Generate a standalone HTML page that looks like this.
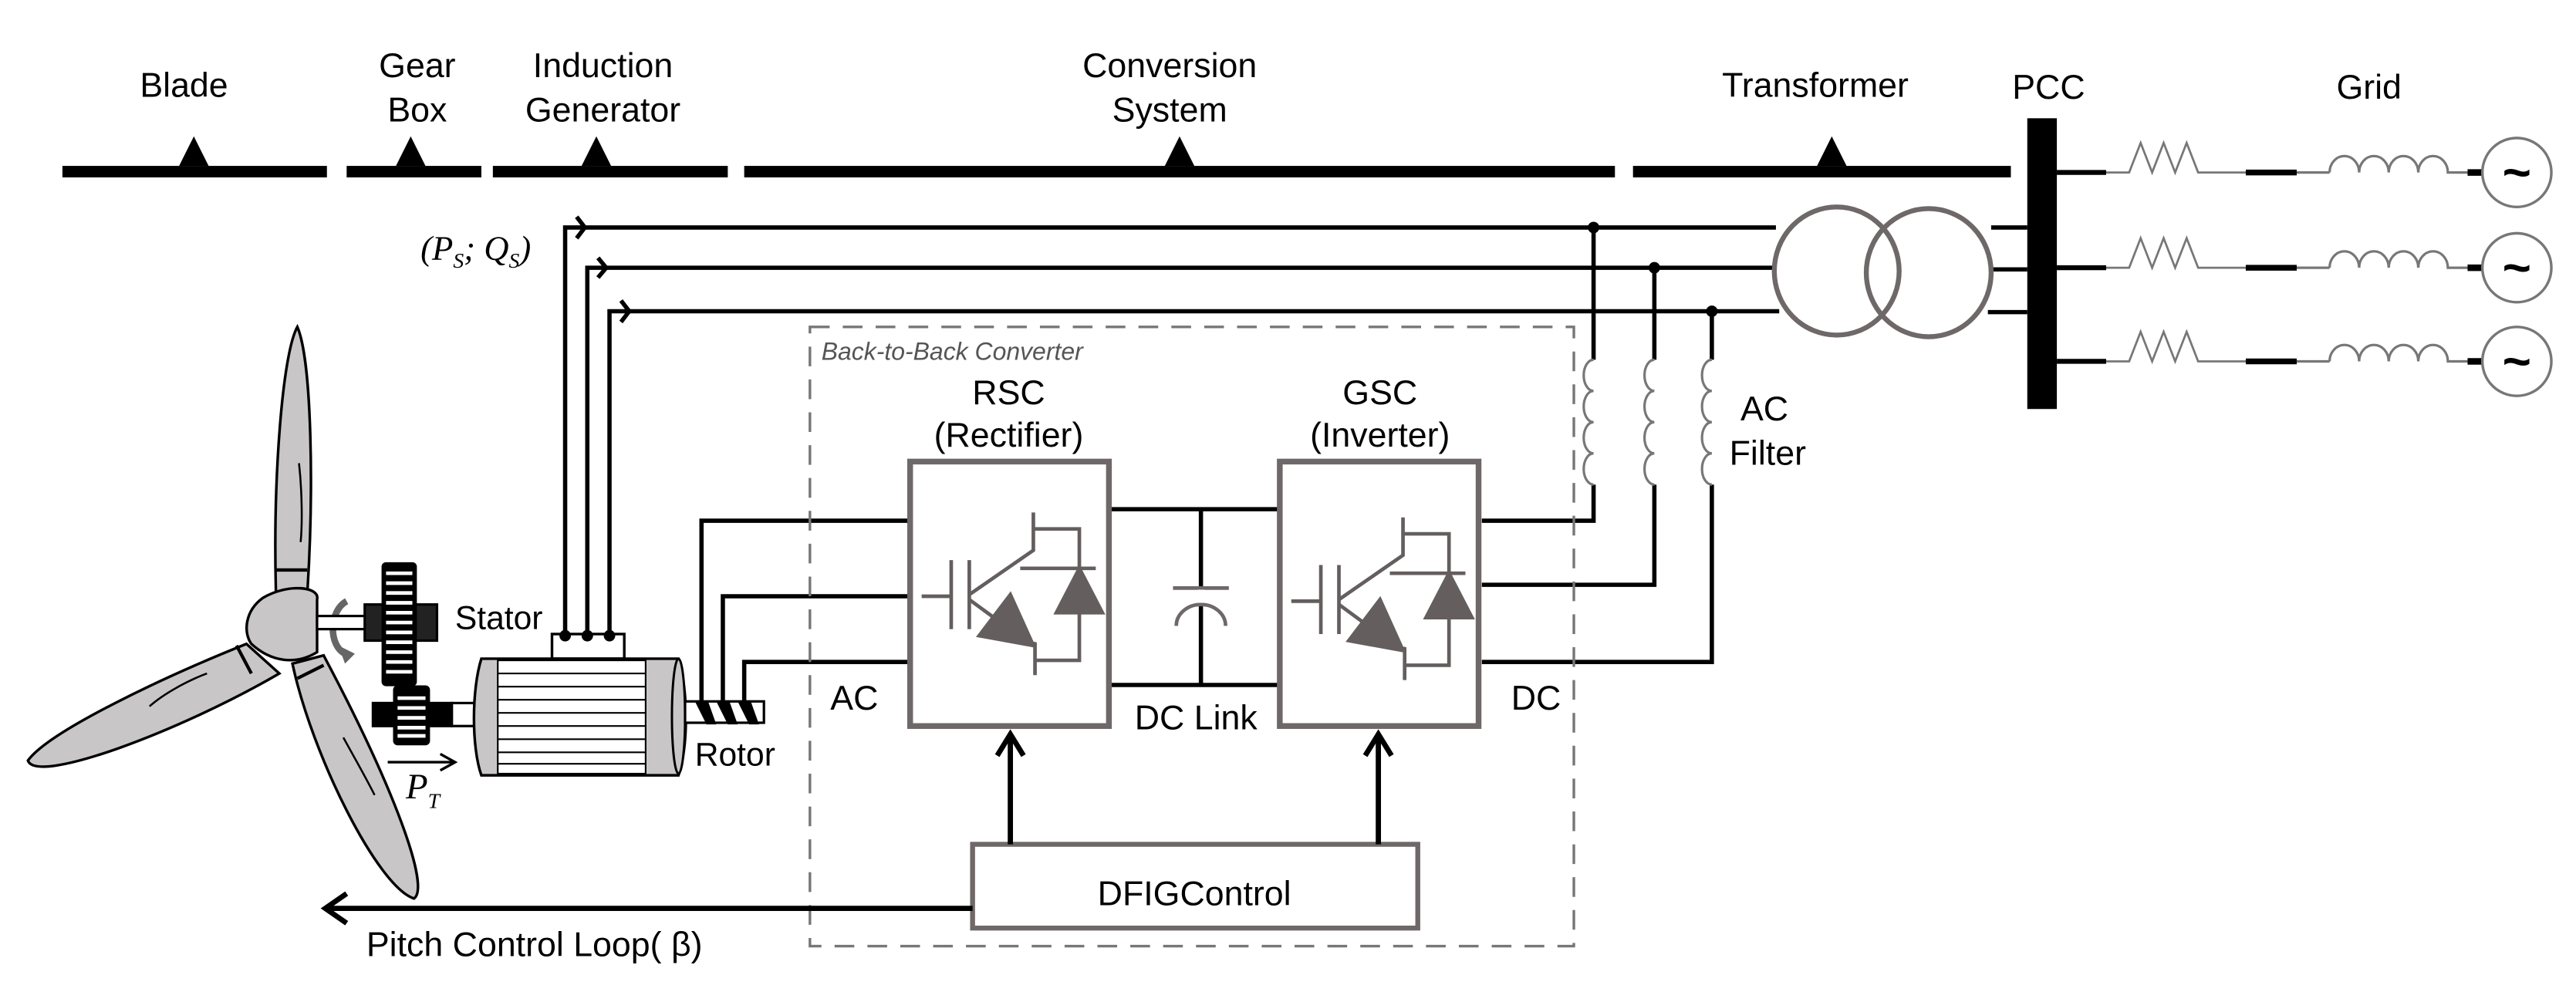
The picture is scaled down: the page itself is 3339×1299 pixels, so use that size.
<!DOCTYPE html>
<html><head><meta charset="utf-8"><style>
html,body{margin:0;padding:0;background:#fff;}
svg{display:block;}
text{font-family:"Liberation Sans",Arial,sans-serif;fill:#000;}
</style></head><body>
<svg width="3339" height="1299" viewBox="0 0 1568 610" preserveAspectRatio="none" xmlns="http://www.w3.org/2000/svg">
<defs>
<g id="igbt" fill="none" stroke="#645e5e" stroke-width="2.2">
<line x1="561" y1="363" x2="579" y2="363"/>
<line x1="579" y1="341" x2="579" y2="383"/>
<line x1="590" y1="341" x2="590" y2="383"/>
<polyline points="590,362 629,335 629,312"/>
<polyline points="629,322 657,322 657,346"/>
<line x1="621" y1="346" x2="667" y2="346"/>
<polygon points="657,346 643,373 671,373" fill="#645e5e"/>
<polyline points="657,373 657,402 630,402"/>
<line x1="630" y1="391" x2="630" y2="411"/>
<line x1="590" y1="365" x2="605" y2="376"/>
<polygon points="615,362 596,387 629,393" fill="#645e5e"/>
<line x1="629" y1="391" x2="630" y2="393"/>
</g>
<g id="grid" >
<line x1="1252" y1="0" x2="1282" y2="0" stroke="#000" stroke-width="3"/>
<polyline points="1282,0 1296,0 1303,-18 1310,0 1317,-18 1324,0 1331,-18 1338,0 1346,0 1367,0" fill="none" stroke="#777" stroke-width="1.3"/>
<line x1="1367" y1="0" x2="1398" y2="0" stroke="#000" stroke-width="3.5"/>
<line x1="1398" y1="0" x2="1418" y2="0" stroke="#777" stroke-width="1.5"/>
<path d="M1418,0 a9,10 0 0 1 18,0 a9,10 0 0 1 18,0 a9,10 0 0 1 18,0 a9,10 0 0 1 18,0 L1502,0" fill="none" stroke="#777" stroke-width="1.5"/>
<line x1="1502" y1="0" x2="1511" y2="0" stroke="#000" stroke-width="4"/>
<ellipse cx="1532" cy="0" rx="21" ry="21" fill="#fff" stroke="#777" stroke-width="1.6"/>
<text x="1532" y="10" font-size="30" font-weight="bold" text-anchor="middle">~</text>
</g>
</defs>

<g font-size="21" text-anchor="middle">
<text x="112" y="59">Blade</text>
<text x="254" y="47">Gear</text><text x="254" y="74">Box</text>
<text x="367" y="47">Induction</text><text x="367" y="74">Generator</text>
<text x="712" y="47">Conversion</text><text x="712" y="74">System</text>
<text x="1105" y="59">Transformer</text>
<text x="1247" y="60">PCC</text>
<text x="1442" y="60">Grid</text>
</g>
<g fill="#000">
<rect x="38" y="101" width="161" height="7"/>
<rect x="211" y="101" width="82" height="7"/>
<rect x="300" y="101" width="143" height="7"/>
<rect x="453" y="101" width="530" height="7"/>
<rect x="994" y="101" width="230" height="7"/>
<polygon points="109,101 127,101 118,83"/>
<polygon points="241,101 259,101 250,83"/>
<polygon points="354,101 372,101 363,83"/>
<polygon points="709,101 727,101 718,83"/>
<polygon points="1106,101 1124,101 1115,83"/>
</g>

<rect x="1234" y="72" width="18" height="177" fill="#000"/>

<g stroke="#000" stroke-width="2.6" fill="none">
<polyline points="344,387 344,138.5 1081,138.5"/>
<polyline points="357.5,387 357.5,163 1080,163"/>
<polyline points="371,387 371,189.5 1083,189.5"/>
<polyline points="351,132 356,138.5 351,145"/>
<polyline points="364,157 369,163 364,169"/>
<polyline points="378,183 383,189.5 378,196"/>
<line x1="1212" y1="138.5" x2="1234" y2="138.5"/>
<line x1="1212" y1="164" x2="1234" y2="164"/>
<line x1="1210" y1="190" x2="1234" y2="190"/>
<line x1="970" y1="138.5" x2="970" y2="219"/>
<line x1="1007" y1="163" x2="1007" y2="219"/>
<line x1="1042" y1="189.5" x2="1042" y2="219"/>
<polyline points="970,295 970,317 902,317"/>
<polyline points="1007,295 1007,356 902,356"/>
<polyline points="1042,295 1042,403 902,403"/>
<polyline points="553,317 427,317 427,428"/>
<polyline points="553,363 440,363 440,428"/>
<polyline points="553,403 453,403 453,428"/>
<line x1="675" y1="310" x2="779" y2="310"/>
<line x1="675" y1="417" x2="779" y2="417"/>
<line x1="731" y1="310" x2="731" y2="417"/>
</g>
<g fill="#000">
<circle cx="970" cy="138.5" r="3.5"/>
<circle cx="1007" cy="163" r="3.5"/>
<circle cx="1042" cy="189.5" r="3.5"/>
</g>
<text x="256" y="158" font-size="21" font-style="italic" style="font-family:'Liberation Serif',serif">(P<tspan font-size="13" dy="5">S</tspan><tspan dy="-5">; Q</tspan><tspan font-size="13" dy="5">S</tspan><tspan dy="-5">)</tspan></text>

<g fill="none" stroke="#777" stroke-width="1.5">
<path d="M970,219 a6,9.5 0 0 0 0,19 a6,9.5 0 0 0 0,19 a6,9.5 0 0 0 0,19 a6,9.5 0 0 0 0,19"/>
<path d="M1007,219 a6,9.5 0 0 0 0,19 a6,9.5 0 0 0 0,19 a6,9.5 0 0 0 0,19 a6,9.5 0 0 0 0,19"/>
<path d="M1042,219 a6,9.5 0 0 0 0,19 a6,9.5 0 0 0 0,19 a6,9.5 0 0 0 0,19 a6,9.5 0 0 0 0,19"/>
</g>
<text x="1074" y="256" font-size="21" text-anchor="middle">AC</text>
<text x="1076" y="283" font-size="21" text-anchor="middle">Filter</text>

<ellipse cx="1118" cy="165" rx="38" ry="39" fill="none" stroke="#6e6868" stroke-width="3"/>
<ellipse cx="1174" cy="166" rx="38" ry="39" fill="none" stroke="#6e6868" stroke-width="3"/>

<use href="#grid" transform="translate(0,105)"/>
<use href="#grid" transform="translate(0,163)"/>
<use href="#grid" transform="translate(0,220)"/>

<rect x="493" y="199" width="465" height="377" fill="none" stroke="#777" stroke-width="1.6" stroke-dasharray="12,8"/>
<text x="500" y="219" font-size="15" font-style="italic" style="fill:#555">Back-to-Back Converter</text>

<rect x="554" y="281" width="121" height="161" fill="#fff" stroke="#6e6868" stroke-width="3.5"/>
<rect x="779" y="281" width="121" height="161" fill="#fff" stroke="#6e6868" stroke-width="3.5"/>
<use href="#igbt"/>
<use href="#igbt" transform="translate(225,3)"/>
<g font-size="21" text-anchor="middle">
<text x="614" y="246">RSC</text><text x="614" y="272">(Rectifier)</text>
<text x="840" y="246">GSC</text><text x="840" y="272">(Inverter)</text>
<text x="520" y="432">AC</text>
<text x="728" y="444">DC Link</text>
<text x="935" y="432">DC</text>
</g>
<line x1="714" y1="358" x2="748" y2="358" stroke="#6e6868" stroke-width="2.2"/>
<path d="M716,381 a15,13 0 0 1 30,0" fill="none" stroke="#6e6868" stroke-width="2.2"/>
<rect x="729" y="359" width="4" height="8" fill="#fff"/>

<rect x="592" y="514" width="271" height="51" fill="#fff" stroke="#6e6868" stroke-width="3"/>
<text x="727" y="551" font-size="21" text-anchor="middle">DFIGControl</text>
<g stroke="#000" stroke-width="3.2" fill="none">
<line x1="615" y1="514" x2="615" y2="447"/>
<polyline points="607,460 615,447 623,460"/>
<line x1="839" y1="514" x2="839" y2="447"/>
<polyline points="831,460 839,447 847,460"/>
<line x1="592" y1="553" x2="198" y2="553"/>
<polyline points="211,544 198,553 211,562"/>
</g>
<text x="223" y="582" font-size="21">Pitch Control Loop( β)</text>

<!-- turbine blades -->
<g fill="#c8c6c6" stroke="#000" stroke-width="1.6">
<path d="M181,199 C172,215 166,290 168,362 L187,362 C191,300 190,220 181,199 Z"/>
<path d="M150,392 C100,412 30,445 17,463 C22,478 110,445 170,410 Z"/>
<path d="M178,404 C190,460 230,540 252,547 C262,540 240,480 197,399 Z"/>
<path d="M160,364 C175,355 195,357 193,365 L193,397 C180,405 165,403 153,392 C148,385 149,372 160,364 Z"/>
</g>
<g stroke="#000" stroke-width="2" fill="none">
<line x1="168" y1="347" x2="187" y2="347"/>
<line x1="144" y1="393" x2="153" y2="410"/>
<line x1="181" y1="413" x2="197" y2="405"/>
<path d="M182,282 C184,300 184,320 183,330" stroke-width="1.2"/>
<path d="M91,430 C100,422 115,414 126,410" stroke-width="1.2"/>
<path d="M209,449 C215,460 222,472 228,484" stroke-width="1.2"/>
</g>
<path d="M211,366 C200,372 200,393 210,398" fill="none" stroke="#666" stroke-width="4"/>
<polygon points="206,393 216,398 210,404" fill="#666"/>
<g stroke="#000" stroke-width="1.5">
<rect x="193" y="375" width="30" height="8" fill="#fff"/>
<rect x="222" y="368" width="44" height="22" fill="#222"/>
<rect x="233" y="343" width="20" height="74" rx="2" fill="#000"/>
<rect x="275" y="428" width="16" height="14" fill="#fff"/>
<rect x="227" y="428" width="48" height="14" fill="#000"/>
<rect x="240" y="418" width="21" height="35" rx="2" fill="#000"/>
</g>
<g stroke="#fff" stroke-width="2.2">
<line x1="235" y1="349" x2="251" y2="349"/><line x1="235" y1="355" x2="251" y2="355"/>
<line x1="235" y1="361" x2="251" y2="361"/><line x1="235" y1="367" x2="251" y2="367"/>
<line x1="235" y1="373" x2="251" y2="373"/><line x1="235" y1="379" x2="251" y2="379"/>
<line x1="235" y1="385" x2="251" y2="385"/><line x1="235" y1="391" x2="251" y2="391"/>
<line x1="235" y1="397" x2="251" y2="397"/><line x1="235" y1="403" x2="251" y2="403"/>
<line x1="235" y1="409" x2="251" y2="409"/>
<line x1="242" y1="425" x2="259" y2="425"/><line x1="242" y1="431" x2="259" y2="431"/>
<line x1="242" y1="437" x2="259" y2="437"/><line x1="242" y1="443" x2="259" y2="443"/>
<line x1="242" y1="448" x2="259" y2="448"/>
</g>
<rect x="336" y="386" width="44" height="15" fill="#fff" stroke="#000" stroke-width="1.6"/>
<g fill="#000"><circle cx="344" cy="387" r="3.5"/><circle cx="357.5" cy="387" r="3.5"/><circle cx="371" cy="387" r="3.5"/></g>
<path d="M293,401 L413,401 C419,420 419,455 413,472 L293,472 C287,455 287,420 293,401 Z" fill="#c8c6c6" stroke="#000" stroke-width="1.6"/>
<rect x="303" y="402" width="90" height="69" fill="#fff" stroke="#000" stroke-width="1"/>
<g stroke="#000" stroke-width="1">
<line x1="303" y1="410" x2="393" y2="410"/><line x1="303" y1="418" x2="393" y2="418"/>
<line x1="303" y1="426" x2="393" y2="426"/><line x1="303" y1="434" x2="393" y2="434"/>
<line x1="303" y1="442" x2="393" y2="442"/><line x1="303" y1="450" x2="393" y2="450"/>
<line x1="303" y1="458" x2="393" y2="458"/><line x1="303" y1="465" x2="393" y2="465"/>
</g>
<ellipse cx="413" cy="436" rx="4" ry="35" fill="#c8c6c6" stroke="#000" stroke-width="1.4"/>
<rect x="417" y="427" width="48" height="13" fill="#fff" stroke="#000" stroke-width="1.5"/>
<g fill="#000">
<polygon points="423,427 431,427 436,441 430,441"/>
<polygon points="436,427 444,427 449,441 443,441"/>
<polygon points="449,427 457,427 462,441 456,441"/>
</g>
<text x="277" y="383" font-size="20">Stator</text>
<text x="423" y="466" font-size="20">Rotor</text>
<g stroke="#000" stroke-width="1.6" fill="none">
<line x1="236" y1="464" x2="276" y2="464"/>
<polyline points="268,459 277,464 268,469"/>
</g>
<text x="247" y="486" font-size="22" font-style="italic" style="font-family:'Liberation Serif',serif">P<tspan font-size="13" dy="6">T</tspan></text>
</svg>
</body></html>
